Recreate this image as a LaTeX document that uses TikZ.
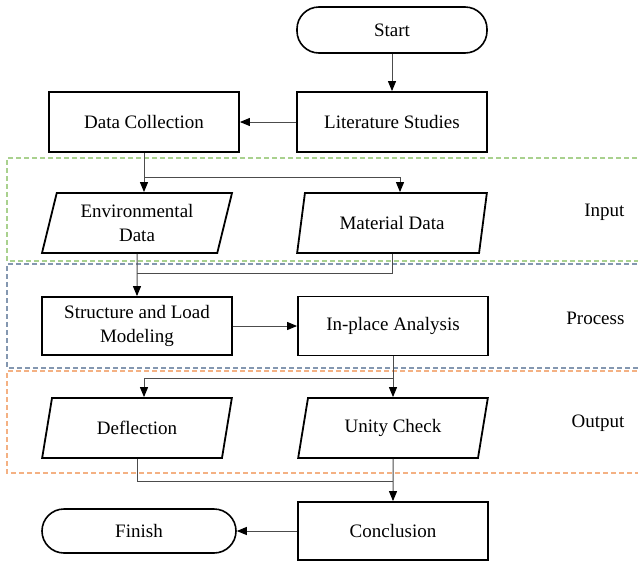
\documentclass[tikz,border=0pt]{standalone}
\usepackage{fontspec}
\setmainfont{Liberation Serif}
\usepackage{tikz}
\usetikzlibrary{calc}
\usetikzlibrary{shapes.geometric}
\usetikzlibrary{arrows.meta}

\definecolor{laneIn}{HTML}{A9D18E}
\definecolor{laneProc}{HTML}{8497B0}
\definecolor{laneOut}{HTML}{F4B183}

\tikzset{
  box/.style={draw, line width=1.8pt, minimum width=190pt, minimum height=60pt, align=center},
  io/.style={draw, line width=1.8pt, trapezium, trapezium left angle=76, trapezium right angle=104,
    trapezium stretches=true, minimum width=190pt, minimum height=60pt, align=center},
  term/.style={draw, line width=1.6pt, rounded corners=22pt, minimum width=190pt, minimum height=46pt},
  link/.style={draw=black!70, line width=1pt},
  lane/.style={dash pattern=on 5pt off 3pt, line width=1.4pt},
}

\begin{document}
\begin{tikzpicture}[x=1pt, y=-1pt, font=\fontsize{19}{24}\selectfont, >={Triangle[length=10pt,width=8pt,color=black]}]
\useasboundingbox (0,0) rectangle (638,563);
% lanes
\foreach \ytop/\ybot/\col/\txt/\ylbl in {158/261/laneIn/Input/212, 264/368/laneProc/Process/318, 371/473/laneOut/Output/423}{
  \draw[lane,\col] (645,\ytop) -- (7,\ytop) -- (7,\ybot) -- (645,\ybot);
  \node[anchor=east] (lbl\txt) at (628,\ylbl) {\txt};
}
% steps
\node[term] (start) at (392,30) {Start};
\node[box] (lit) at (392,122) {Literature Studies};
\node[box] (dc) at (144,122) {Data Collection};
\node[io] (env) at (137,223) {Environmental\\Data};
\node[io] (mat) at (392,223) {Material Data};
\node[box, minimum height=58pt] (struct) at (137,326) {Structure and Load\\Modeling};
\node[box, minimum height=59pt] (inp) at (393,326) {In-place Analysis};
\node[io] (defl) at (137,428) {Deflection};
\node[io] (unity) at (393,428) {Unity Check};
\node[box, minimum height=58pt] (concl) at (393,531) {Conclusion};
\node[term, minimum width=194pt, minimum height=44pt] (fin) at (139,531) {Finish};
% junctions
\coordinate (split1) at (144,177);
\coordinate (merge1) at (137,273);
\coordinate (split2) at (393,378);
\coordinate (merge2) at (393,481);
% connectors
\draw[link,->] (start) -- (lit);
\draw[link,->] (lit) -- (dc);
\draw[link,->] (dc) -- (dc |- env.north);
\draw[link,->] (split1) -| ($(mat.north)+(8,0)$);
\draw[link,->] (env) -- (struct);
\draw[link] (mat) |- (merge1);
\draw[link,->] (struct) -- (inp);
\draw[link,->] (inp) -- (unity);
\draw[link,->] (split2) -| ($(defl.north)+(7,0)$);
\draw[link] (defl) |- (merge2);
\draw[link,->] (unity) -- (concl);
\draw[link,->] (concl) -- (fin);
\end{tikzpicture}
\end{document}
